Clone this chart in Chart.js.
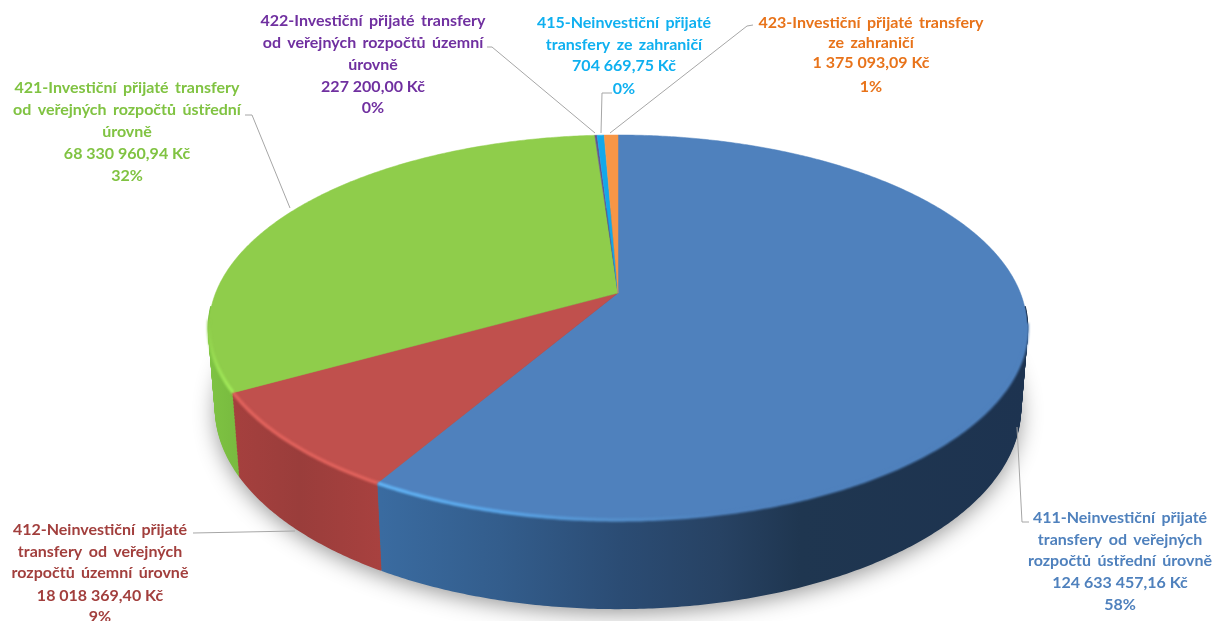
<!DOCTYPE html>
<html lang="cs">
<head>
<meta charset="utf-8">
<title>Přijaté transfery</title>
<script src="https://cdn.jsdelivr.net/npm/chart.js@4"></script>
<style>
    html, body { margin: 0; padding: 0; background: #fff; }
    canvas { display: block; }
</style>
</head>
<body>
<canvas id="pieChart" width="1215" height="621"></canvas>
<script>
const categories = [
    ["411-Neinvestiční přijaté", "transfery od veřejných", "rozpočtů ústřední úrovně"],
    ["412-Neinvestiční přijaté", "transfery od veřejných", "rozpočtů územní úrovně"],
    ["421-Investiční přijaté transfery", "od veřejných rozpočtů ústřední", "úrovně"],
    ["422-Investiční přijaté transfery", "od veřejných rozpočtů územní", "úrovně"],
    ["415-Neinvestiční přijaté", "transfery ze zahraničí"],
    ["423-Investiční přijaté transfery", "ze zahraničí"]
];
const amounts = [124633457.16, 18018369.40, 68330960.94, 227200.00, 704669.75, 1375093.09];
const amountLabels = ["124 633 457,16 Kč", "18 018 369,40 Kč", "68 330 960,94 Kč", "227 200,00 Kč", "704 669,75 Kč", "1 375 093,09 Kč"];
const percentLabels = ["58%", "9%", "32%", "0%", "0%", "1%"];
const sliceColors = ["#4f81bd", "#c0504d", "#8fcd4b", "#62568f", "#12a8ea", "#f79646"];
const textColors = ["#4f81bd", "#a23f3d", "#80c342", "#7030a0", "#0fb0f0", "#e8731a"];

// block centre x and the y of every text line
const labelX = [1120, 100, 127, 373, 624, 871];
const labelY = [
    [518, 540, 561, 583, 605],
    [530, 552, 573, 596, 617],
    [88, 110, 132, 154, 176],
    [21, 43, 65, 87, 108],
    [23, 45, 66, 89],
    [23, 43, 63, 87]
];
const leaderLines = [
    [[1029, 522], [1022, 522], [1017, 427]],
    [[193, 533], [295, 531]],
    [[245, 115], [252, 115], [290, 208]],
    [[487, 47], [492, 47], [595, 133]],
    [[612, 93], [602, 93], [601, 133]],
    [[753, 25], [747, 26], [610, 133]]
];

const topDisc = { cx: 618, cy: 293, r: 402.4, a: 186.3, b: 0.179 };
const baseDisc = { cx: 618, cy: 372.2, r: 395.5, a: 193.5, b: 0.179 };
const wallStops = [
    [[381, "#3a6ba0"], [500, "#335d8c"], [620, "#2b4c74"], [720, "#274263"], [800, "#1f3650"], [1028, "#1d3350"]],
    [[235, "#a5403e"], [300, "#9a3d3b"], [381, "#a8413f"]],
    [[205, "#7fc443"], [240, "#78ba3f"]],
    [[590, "#5a2680"], [600, "#5a2680"]],
    [[590, "#0e86b8"], [610, "#0e86b8"]],
    [[600, "#c77632"], [620, "#c77632"]]
];
const STEP = Math.PI / 360;
const WALL_LEVELS = 60;
// only the front of the side wall can be seen
const WALL_FROM = Math.PI * 4 / 180;
const WALL_TO = Math.PI * 176 / 180;

function project(disc, angle) {
    const u = Math.cos(angle);
    const v = Math.sin(angle);
    const w = 1 - disc.b * v;
    return [disc.cx + disc.r * u / w, disc.cy + disc.a * v / w];
}

function traceArc(ctx, disc, from, to) {
    const n = Math.max(1, Math.ceil(Math.abs(to - from) / STEP));
    for (let i = 0; i <= n; i++) {
        const p = project(disc, from + (to - from) * i / n);
        ctx.lineTo(p[0], p[1]);
    }
}

function xGradient(ctx, stops) {
    const x0 = stops[0][0];
    const x1 = stops[stops.length - 1][0];
    const g = ctx.createLinearGradient(x0, 0, x1, 0);
    stops.forEach(s => g.addColorStop((s[0] - x0) / (x1 - x0), s[1]));
    return g;
}

function drawShadow(ctx) {
    ctx.save();
    ctx.shadowColor = "rgba(0, 0, 0, 0.42)";
    ctx.shadowBlur = 22;
    ctx.shadowOffsetY = 5;
    ctx.fillStyle = xGradient(ctx, [[210, "#7fc443"], [240, "#78ba3f"], [600, "#2b4c74"], [1028, "#1d3350"]]);
    ctx.beginPath();
    traceArc(ctx, baseDisc, 0, Math.PI * 2);
    ctx.closePath();
    ctx.fill();
    ctx.restore();
}

// the side wall is swept from the base disc up to the top disc
function drawWalls(ctx, arcs) {
    const styles = wallStops.map(stops => xGradient(ctx, stops));
    ctx.save();
    ctx.lineWidth = 2.5;
    ctx.lineCap = "butt";
    for (let k = 0; k <= WALL_LEVELS; k++) {
        const t = k / WALL_LEVELS;
        const disc = {
            cx: topDisc.cx,
            cy: baseDisc.cy + (topDisc.cy - baseDisc.cy) * t,
            r: baseDisc.r + (topDisc.r - baseDisc.r) * t,
            a: baseDisc.a + (topDisc.a - baseDisc.a) * t,
            b: topDisc.b
        };
        arcs.forEach((arc, i) => {
            const from = Math.max(arc.startAngle, WALL_FROM);
            const to = Math.min(arc.endAngle, WALL_TO);
            if (from >= to) return;
            ctx.beginPath();
            traceArc(ctx, disc, from, to);
            ctx.strokeStyle = styles[i];
            ctx.stroke();
        });
    }
    ctx.restore();
}

function drawTops(ctx, arcs) {
    arcs.forEach((arc, i) => {
        ctx.beginPath();
        ctx.moveTo(topDisc.cx, topDisc.cy);
        traceArc(ctx, topDisc, arc.startAngle, arc.endAngle);
        ctx.closePath();
        ctx.fillStyle = sliceColors[i];
        ctx.fill();
        ctx.strokeStyle = sliceColors[i];
        ctx.lineWidth = 0.5;
        ctx.stroke();
    });
}

function rimStyle(ctx, i) {
    if (i === 0) {
        return xGradient(ctx, [[378, "#62b4f5"], [500, "#5aa5e8"], [610, "#5590cc"], [720, "#4f81bd"], [1030, "#4f81bd"]]);
    }
    if (i === 1) return "#e0625c";
    const g = ctx.createLinearGradient(0, 392, 0, 325);
    g.addColorStop(0, "#a2ea5a");
    g.addColorStop(1, "#8fcd4b");
    return g;
}

function drawRims(ctx, arcs) {
    const rimFrom = Math.PI / 20;
    const rimTo = Math.PI * 172 / 180;
    ctx.save();
    ctx.filter = "blur(1.1px)";
    ctx.lineWidth = 3.5;
    ctx.lineCap = "butt";
    for (let i = 0; i < 3; i++) {
        const from = Math.max(arcs[i].startAngle, rimFrom);
        const to = Math.min(arcs[i].endAngle, rimTo);
        ctx.beginPath();
        traceArc(ctx, topDisc, from, to);
        ctx.strokeStyle = rimStyle(ctx, i);
        ctx.stroke();
    }
    ctx.restore();
}

function drawLabels(ctx) {
    ctx.save();
    ctx.strokeStyle = "#a6a6a6";
    ctx.lineWidth = 1;
    leaderLines.forEach(line => {
        ctx.beginPath();
        line.forEach(p => ctx.lineTo(p[0], p[1]));
        ctx.stroke();
    });
    ctx.font = "bold 16px Lato";
    ctx.textAlign = "center";
    ctx.textBaseline = "middle";
    categories.forEach((names, i) => {
        ctx.fillStyle = textColors[i];
        ctx.wordSpacing = "2.5px";
        names.forEach((text, k) => ctx.fillText(text, labelX[i], labelY[i][k]));
        ctx.wordSpacing = "0px";
        ctx.fillText(amountLabels[i], labelX[i], labelY[i][names.length]);
        ctx.fillText(percentLabels[i], labelX[i], labelY[i][names.length + 1]);
    });
    ctx.restore();
}

const pie3d = {
    id: "pie3d",
    beforeDatasetDraw(chart) {
        const ctx = chart.ctx;
        const arcs = chart.getDatasetMeta(0).data;
        drawShadow(ctx);
        drawWalls(ctx, arcs);
        drawTops(ctx, arcs);
        drawRims(ctx, arcs);
        drawLabels(ctx);
        return false;
    }
};

new Chart(document.getElementById("pieChart"), {
    type: "pie",
    data: {
        labels: categories.map(c => c.join(" ")),
        datasets: [{ data: amounts, backgroundColor: sliceColors, borderWidth: 0 }]
    },
    options: {
        responsive: false,
        animation: false,
        plugins: {
            legend: { display: false },
            tooltip: { enabled: false }
        }
    },
    plugins: [pie3d]
});
</script>
</body>
</html>
